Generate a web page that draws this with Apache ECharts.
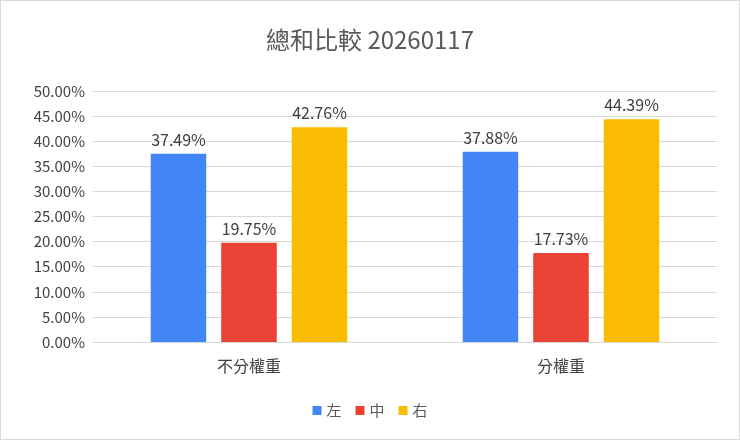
<!DOCTYPE html>
<html>
<head>
<meta charset="utf-8">
<script src="https://cdn.jsdelivr.net/npm/echarts@6/dist/echarts.min.js"></script>
<style>
html,body{margin:0;padding:0;background:#fff;}
#chart{width:738px;height:438px;border:1px solid #d9d9d9;}
</style>
</head>
<body>
<div id="chart"></div>
<script>
var categories = ["不分權重", "分權重"];
var seriesNames = ["左", "中", "右"];
var leftValues = [37.49, 37.88];
var midValues = [19.75, 17.73];
var rightValues = [42.76, 44.39];
var colors = ["#4285F4", "#EA4335", "#FBBC04"];

var font = "'Noto Sans CJK TC', 'Liberation Sans', sans-serif";
var chart = echarts.init(document.getElementById("chart"));

function makeSeries(name, data, color) {
	return {
		name: name,
		type: "bar",
		data: data,
		barGap: "27%",
		barCategoryGap: "37%",
		itemStyle: { color: color },
		label: {
			show: true,
			position: "top",
			distance: 6,
			color: "#404040",
			fontSize: 16,
			fontFamily: font,
			formatter: function(p) { return p.value.toFixed(2) + "%"; }
		}
	};
}

chart.setOption({
	animation: false,
	title: {
		text: "總和比較 20260117",
		left: "center",
		top: 22,
		textStyle: { fontSize: 24, fontWeight: "normal", color: "#595959", fontFamily: font }
	},
	legend: {
		bottom: 16,
		itemWidth: 9,
		itemHeight: 9,
		itemGap: 14,
		icon: "rect",
		textStyle: { fontSize: 15, color: "#595959", fontFamily: font },
		data: seriesNames
	},
	grid: { left: 92, right: 22, top: 90, bottom: 97 },
	xAxis: {
		type: "category",
		data: categories,
		axisTick: { show: false },
		axisLine: { lineStyle: { color: "#d9d9d9" } },
		axisLabel: { fontSize: 16, color: "#404040", margin: 16, fontFamily: font }
	},
	yAxis: {
		type: "value",
		min: 0,
		max: 50,
		interval: 5,
		axisLabel: {
			fontSize: 15,
			color: "#404040",
			fontFamily: font,
			formatter: function(v) { return v.toFixed(2) + "%"; }
		},
		splitLine: { lineStyle: { color: "#d9d9d9" } }
	},
	series: [
		makeSeries(seriesNames[0], leftValues, colors[0]),
		makeSeries(seriesNames[1], midValues, colors[1]),
		makeSeries(seriesNames[2], rightValues, colors[2])
	]
});
</script>
</body>
</html>
